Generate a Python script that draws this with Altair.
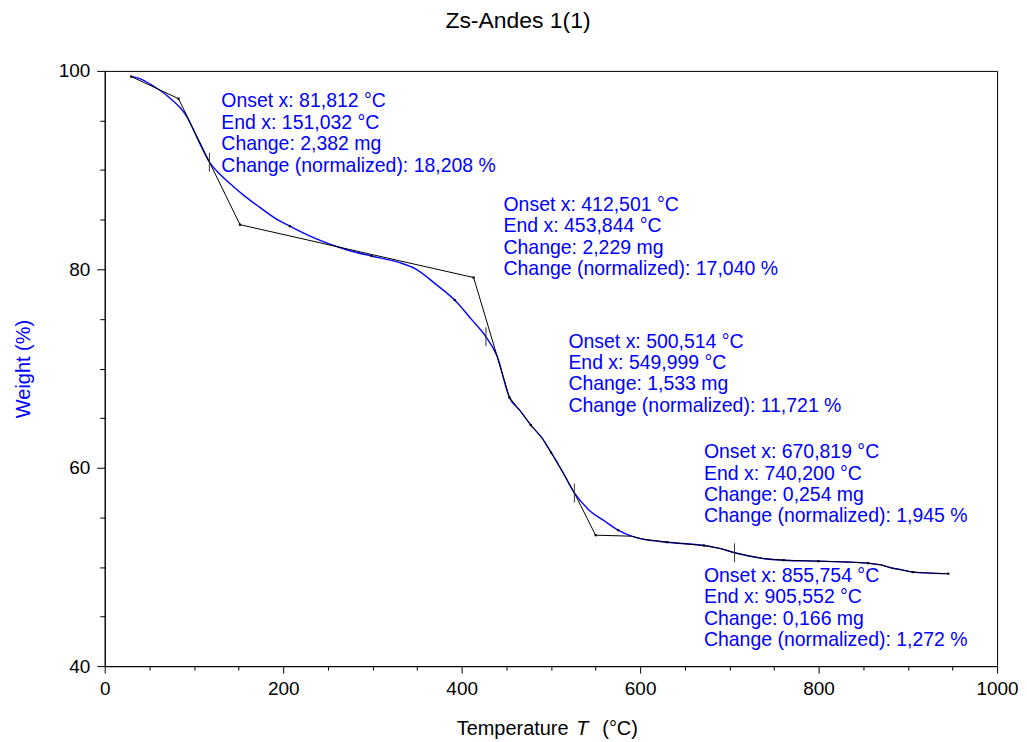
import altair as alt
import pandas as pd

FONT = "Liberation Sans, Arial, sans-serif"
BLUE = "#0000ff"

# Measured TGA curve (temperature in °C, weight in %)
curve_T = [29.7, 40, 54, 72.6, 91.3, 106, 117.3, 130, 143.4, 158, 173, 195.5, 207.5, 236.5, 273.7,
           299, 329.6, 348.3, 370.6, 392.2, 411.5, 427.2, 439.5, 453.6, 465, 477.5, 490, 500.2, 513,
           526.3, 542, 560.5, 575.4, 590.3, 601.5, 630.2, 671.5, 690, 705.8, 722, 739.3, 760.9, 799.6,
           830, 855.5, 870, 880.8, 893, 905.8, 925, 945.3]
curve_W = [99.43, 99.2, 98.5, 97.3, 95.5, 92.8, 90.8, 89.5, 88.4, 87.3, 86.3, 84.9, 84.35, 83.1, 81.9,
           81.34, 80.7, 80.05, 78.53, 76.9, 74.9, 73.2, 71.3, 67.07, 65.8, 64.3, 63.0, 61.54, 59.6,
           57.46, 55.8, 54.6, 53.7, 53.1, 52.83, 52.49, 52.16, 51.85, 51.43, 51.1, 50.83, 50.68, 50.58,
           50.5, 50.38, 50.2, 49.92, 49.7, 49.48, 49.38, 49.32]

# Tangent construction polyline (black)
tan_T = [29.7, 82.7, 151.6, 413.4, 453.6, 465, 477.5, 490, 500.2, 513, 526.3, 550.1, 590.3, 601.5, 630.2,
         671.5, 690, 705.8, 722, 739.3, 760.9, 799.6, 830, 855.5, 870, 880.8, 893, 905.8, 925, 945.3]
tan_W = [99.43, 97.2, 84.5, 79.17, 67.07, 65.8, 64.3, 63.0, 61.54, 59.6, 57.46, 53.2, 53.1, 52.83, 52.49,
         52.16, 51.85, 51.43, 51.1, 50.83, 50.68, 50.58, 50.5, 50.38, 50.2, 49.92, 49.7, 49.48, 49.38, 49.32]

# Small black dots
dot_T = [29.7, 82.7, 151.6, 207.5, 299, 392.2, 413.4, 453.6, 477.5, 500.2, 550.1, 575.4, 630.2, 671.5,
         760.9, 799.6, 855.5, 905.8, 945.3]
dot_W = [99.43, 97.2, 84.5, 84.35, 81.34, 76.9, 79.17, 67.07, 64.3, 61.54, 53.2, 53.7, 52.49, 52.16,
         50.68, 50.58, 50.38, 49.48, 49.32]

# Inflection markers
mark_T = [117.3, 427.2, 526.3, 705.8]
mark_W = [90.8, 73.2, 57.46, 51.43]
MARK_HALF = 0.95

# Step annotations
onset = ["81,812", "412,501", "500,514", "670,819", "855,754"]
end = ["151,032", "453,844", "549,999", "740,200", "905,552"]
change = ["2,382", "2,229", "1,533", "0,254", "0,166"]
norm = ["18,208", "17,040", "11,721", "1,945", "1,272"]
label_T = [130.7, 446.9, 519.6, 671.5, 671.5]
label_W = [96.33, 85.88, 72.11, 60.96, 48.49]

curve_df = pd.DataFrame({"T": curve_T, "W": curve_W})
tan_df = pd.DataFrame({"T": tan_T, "W": tan_W})
dot_df = pd.DataFrame({"T": dot_T, "W": dot_W})
mark_df = pd.DataFrame({"T": mark_T, "W": [w - MARK_HALF for w in mark_W],
                        "W2": [w + MARK_HALF for w in mark_W]})
ann_df = pd.DataFrame({
    "T": label_T, "W": label_W,
    "txt": [f"Onset x: {o} °C\nEnd x: {e} °C\nChange: {c} mg\nChange (normalized): {n} %"
            for o, e, c, n in zip(onset, end, change, norm)],
})

x_axis = alt.Axis(
    values=list(range(0, 1001, 50)), format="d",
    labelExpr="datum.value % 200 === 0 ? datum.label : ''",
    tickSize={"condition": {"test": "datum.value % 200 === 0", "value": 7}, "value": 4},
    labelOverlap=False, labelFlush=False, labelPadding=6, title=None, grid=False,
)
y_axis = alt.Axis(
    values=list(range(40, 101, 5)), format="d",
    labelExpr="datum.value % 20 === 0 ? datum.label : ''",
    tickSize={"condition": {"test": "datum.value % 20 === 0", "value": 8}, "value": 5},
    labelOverlap=False, labelFlush=False, labelPadding=7, grid=False,
    title="Weight (%)", titleColor=BLUE, titleFontSize=20, titleFont=FONT,
    titleFontWeight="normal", titlePadding=25,
)
xs = alt.Scale(domain=[0, 1000], nice=False, zero=False)
ys = alt.Scale(domain=[40, 100], nice=False, zero=False)


def X(f="T"):
    return alt.X(f"{f}:Q", scale=xs, axis=x_axis)


def Y(f="W"):
    return alt.Y(f"{f}:Q", scale=ys, axis=y_axis)


curve = alt.Chart(curve_df).mark_line(color=BLUE, strokeWidth=1.4, interpolate="monotone").encode(x=X(), y=Y())
tangent = alt.Chart(tan_df).mark_line(color="black", strokeWidth=1).encode(x=X(), y=Y())
dots = alt.Chart(dot_df).mark_point(shape="square", filled=True, size=5, color="black", opacity=1).encode(x=X(), y=Y())
marks = alt.Chart(mark_df).mark_rule(color="#333333", strokeWidth=1).encode(x=X(), y=Y(), y2="W2:Q")
ann = alt.Chart(ann_df).mark_text(
    align="left", baseline="alphabetic", lineBreak="\n", lineHeight=21.5,
    font=FONT, fontSize=19.5, color=BLUE,
).encode(x=X(), y=Y(), text="txt:N")

XT_Y = 666
xt1 = alt.Chart(pd.DataFrame({"t": ["Temperature"]})).mark_text(
    align="left", baseline="alphabetic", font=FONT, fontSize=20, color="black"
).encode(x=alt.value(353), y=alt.value(XT_Y), text="t:N")
xt2 = alt.Chart(pd.DataFrame({"t": ["T"]})).mark_text(
    align="left", baseline="alphabetic", font=FONT, fontSize=20, fontStyle="italic", color="black"
).encode(x=alt.value(473), y=alt.value(XT_Y), text="t:N")
xt3 = alt.Chart(pd.DataFrame({"t": ["(°C)"]})).mark_text(
    align="left", baseline="alphabetic", font=FONT, fontSize=20, color="black"
).encode(x=alt.value(499), y=alt.value(XT_Y), text="t:N")

chart = alt.layer(curve, tangent, dots, marks, ann, xt1, xt2, xt3).properties(
    width=895, height=597,
    autosize=alt.AutoSizeParams(type="none"),
    padding={"left": 97, "top": 62, "right": 22, "bottom": 73},
    title=alt.TitleParams(text="Zs-Andes 1(1)", fontSize=23, font=FONT, fontWeight="normal",
                          color="black", anchor="middle", dx=-33, offset=29),
).configure_view(stroke="black", strokeWidth=1).configure_axis(
    domainColor="black", tickColor="black", labelColor="black", labelFont=FONT,
    labelFontSize=19, domainWidth=1, tickWidth=1,
)

chart.save("out.html", embed_options={"renderer": "svg", "actions": False})
